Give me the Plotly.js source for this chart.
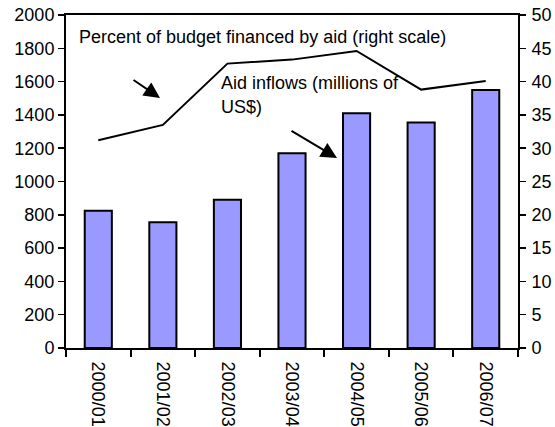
<!DOCTYPE html>
<html>
<head>
<meta charset="utf-8">
<script src="https://cdn.plot.ly/plotly-3.0.1.min.js"></script>
<style>html,body{margin:0;padding:0;background:#fff;}#chart{width:555px;height:427px;}</style>
</head>
<body>
<div id="chart"></div>
<script>
const categories = ["2000/01", "2001/02", "2002/03", "2003/04", "2004/05", "2005/06", "2006/07"];
const aidInflows = [825, 755, 890, 1170, 1410, 1355, 1550];
const budgetPct = [31.2, 33.5, 42.7, 43.3, 44.6, 38.8, 40.1];
const leftTicks = [0, 200, 400, 600, 800, 1000, 1200, 1400, 1600, 1800, 2000];
const rightTicks = [0, 5, 10, 15, 20, 25, 30, 35, 40, 45, 50];

const font = {family: '"Liberation Sans", Arial, sans-serif', size: 18, color: '#000'};

const traces = [
  {
    type: 'bar', x: categories, y: aidInflows, yaxis: 'y',
    marker: {color: '#9999FF', line: {color: '#000', width: 2}},
    hoverinfo: 'none'
  },
  {
    type: 'scatter', mode: 'lines', x: categories, y: budgetPct, yaxis: 'y2',
    line: {color: '#000', width: 2}, hoverinfo: 'none'
  }
];

const layout = {
  width: 555, height: 427,
  margin: {l: 66, r: 37, t: 15, b: 79},
  paper_bgcolor: '#fff', plot_bgcolor: '#fff',
  font: font,
  showlegend: false,
  bargap: 0.58,
  xaxis: {
    type: 'category', showline: true, linecolor: '#000', linewidth: 2, mirror: true,
    ticks: 'outside', tickson: 'boundaries', ticklen: 7, tickwidth: 2, tickcolor: '#000',
    tickangle: 90, ticklabelstandoff: 8, showgrid: false, zeroline: false, tickfont: font
  },
  yaxis: {
    range: [0, 2000], tickvals: leftTicks, ticktext: leftTicks.map(String),
    showline: true, linecolor: '#000', linewidth: 2,
    ticks: 'outside', ticklen: 6, tickwidth: 1.5, tickcolor: '#000',
    showgrid: false, zeroline: false, tickfont: font
  },
  yaxis2: {
    range: [0, 50], tickvals: rightTicks, ticktext: rightTicks.map(String),
    overlaying: 'y', side: 'right',
    showline: true, linecolor: '#000', linewidth: 2,
    ticks: 'outside', ticklen: 6, tickwidth: 1.5, tickcolor: '#000',
    ticklabelstandoff: 2,
    showgrid: false, zeroline: false, tickfont: font
  },
  annotations: [
    {xref: 'paper', yref: 'paper', x: 0.0243, y: 0.934, xanchor: 'left', yanchor: 'middle',
     text: 'Percent of budget financed by aid (right scale)', showarrow: false, font: font},
    {xref: 'paper', yref: 'paper', x: 0.3385, y: 0.7958, xanchor: 'left', yanchor: 'middle',
     text: 'Aid inflows (millions of', showarrow: false, font: font},
    {xref: 'paper', yref: 'paper', x: 0.3385, y: 0.7237, xanchor: 'left', yanchor: 'middle',
     text: 'US$)', showarrow: false, font: font},
    {xref: 'paper', yref: 'paper', x: 0.208, y: 0.7508, ax: -28, ay: -19, text: '',
     showarrow: true, arrowhead: 2, arrowsize: 1.6, arrowwidth: 2, arrowcolor: '#000', standoff: 0},
    {xref: 'paper', yref: 'paper', x: 0.5996, y: 0.5706, ax: -47, ay: -28, text: '',
     showarrow: true, arrowhead: 2, arrowsize: 1.6, arrowwidth: 2, arrowcolor: '#000', standoff: 0}
  ]
};

Plotly.newPlot('chart', traces, layout, {displayModeBar: false, staticPlot: true});
</script>
</body>
</html>
